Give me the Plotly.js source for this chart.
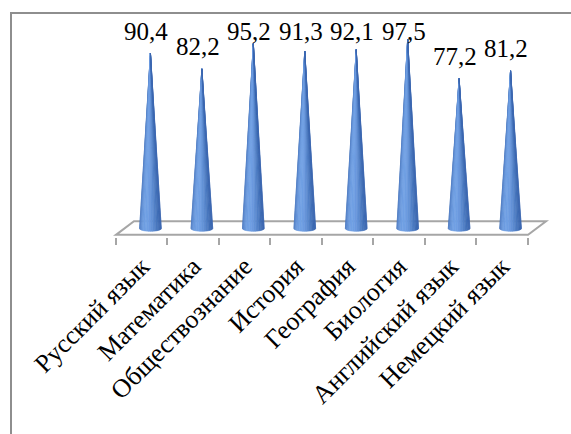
<!DOCTYPE html>
<html><head><meta charset="utf-8">
<script src="https://cdn.plot.ly/plotly-3.0.1.min.js"></script>
<style>
body{margin:0;overflow:hidden;background:#fff}
#c{width:571px;height:434px}
#f{position:absolute;left:10px;top:12px;width:620px;height:500px;border-left:2px solid #8e8e8e;border-top:2px solid #8e8e8e;pointer-events:none}
</style></head><body>
<div id="c"></div><div id="f"></div>
<script>
const categories = ['Русский язык','Математика','Обществознание','История','География','Биология','Английский язык','Немецкий язык'];
const values = [90.4, 82.2, 95.2, 91.3, 92.1, 97.5, 77.2, 81.2];
const valueLabels = ['90,4','82,2','95,2','91,3','92,1','97,5','77,2','81,2'];

const N = 18, r = 0.214, e = 1.55;
const dark = [40, 84, 158], light = [112, 160, 228];
const traces = [];
for (let k = 0; k < N; k++) {
  const p0 = Math.PI * (1 - k / N), p1 = Math.PI * (1 - (k + 1) / N);
  const pm = (p0 + p1) / 2;
  const f = 0.25 + 0.75 * Math.pow(Math.max(0, Math.cos(pm - 1.95)), 2);
  const c = dark.map((d, j) => Math.round(d + (light[j] - d) * f));
  const col = 'rgb(' + c.join(',') + ')';
  const xs = [], ys = [];
  values.forEach((v, i) => {
    xs.push(i, i + r * Math.cos(p0), i + r * Math.cos(p1), i, null);
    ys.push(v, -e * Math.sin(p0), -e * Math.sin(p1), v, null);
  });
  traces.push({type:'scatter', mode:'lines', x:xs, y:ys, fill:'toself', fillcolor:col,
    line:{color:col, width:0.6}, hoverinfo:'skip', showlegend:false, connectgaps:false});
}
traces.push({type:'scatter', x:[], y:[], xaxis:'x2', showlegend:false});

const annotations = values.map((v, i) => ({
  x: i - 0.08, y: Math.min(v + 11.4, 101.5), xref:'x', yref:'y',
  text: valueLabels[i], showarrow:false, xanchor:'center', yanchor:'middle',
  font:{family:'Liberation Serif', size:25, color:'#000'}
}));

const tickPos = [];
for (let k = 0; k <= categories.length; k++) tickPos.push(-0.67 + k);

const layout = {
  width:571, height:434,
  margin:{l:99, r:9, t:15, b:197},
  paper_bgcolor:'#fff', plot_bgcolor:'rgba(0,0,0,0)',
  showlegend:false,
  xaxis:{range:[-1,8], tickvals:categories.map((c,i)=>i-0.17), ticktext:categories,
    tickangle:-45, ticks:'', showline:false, showgrid:false, zeroline:false,
    ticklabelstandoff:8,
    tickfont:{family:'Liberation Serif', size:26, color:'#000'}},
  xaxis2:{overlaying:'x', anchor:'y', side:'bottom', range:[-1,8], tickvals:tickPos,
    ticks:'outside', ticklen:7, tickwidth:2, tickcolor:'#a6a6a6',
    showticklabels:false, showgrid:false, zeroline:false, showline:false},
  yaxis:{range:[-4.5,110], visible:false, fixedrange:true},
  shapes:[{type:'path', xref:'x', yref:'y', layer:'below',
    path:'M -0.67,-3.4 L 7.34,-3.4 L 7.69,3.6 L -0.32,3.6 Z',
    line:{color:'#a6a6a6', width:2}, fillcolor:'rgba(0,0,0,0)'}],
  annotations: annotations
};
Plotly.newPlot('c', traces, layout, {displayModeBar:false, staticPlot:true});
</script>
</body></html>
